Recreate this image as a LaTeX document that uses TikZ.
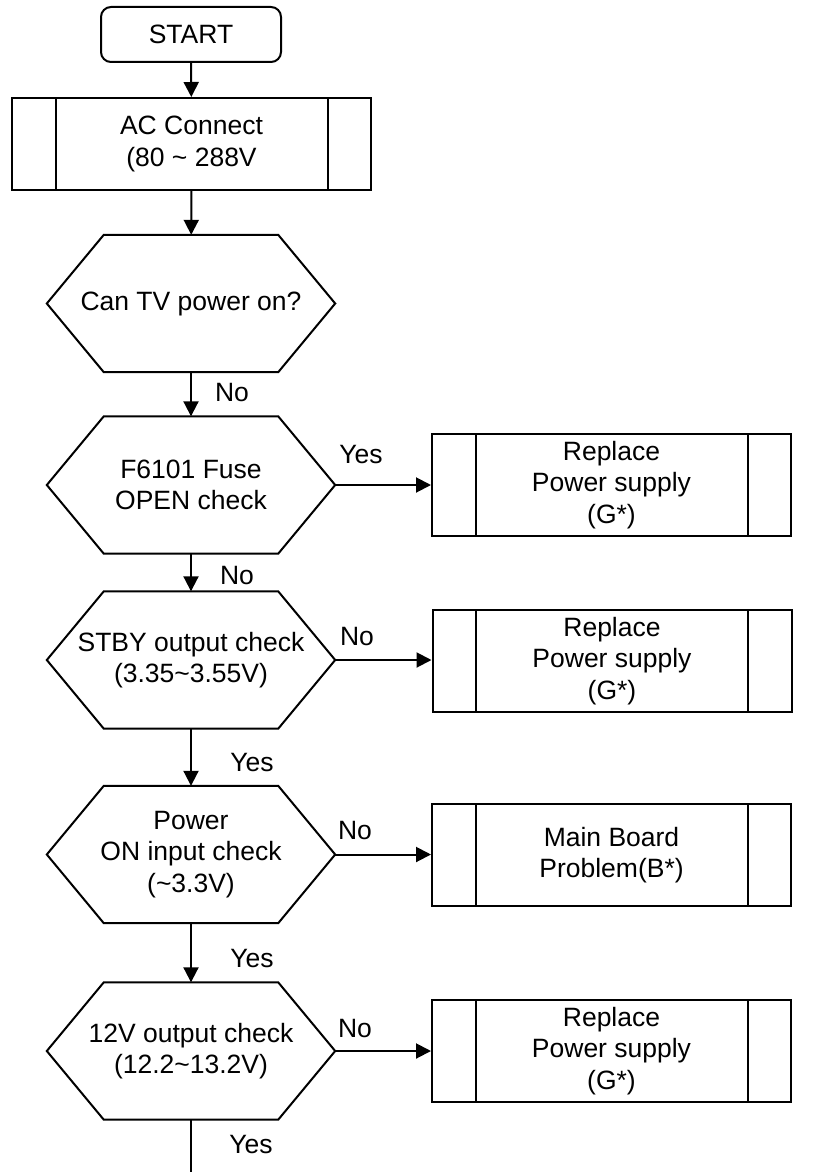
\documentclass[tikz,border=0pt]{standalone}
\usepackage{fontspec}
\setmainfont{Liberation Sans}
\usetikzlibrary{arrows.meta,calc}
\begin{document}
\begin{tikzpicture}[x=1pt,y=-1pt,
  every node/.style={font=\fontsize{26.5}{31.5}\selectfont, align=center, inner sep=0pt},
  line/.style={line width=2pt, line join=miter},
  arr/.style={line, -{Triangle[length=15pt,width=15pt]}},
  startbox/.style={draw, line width=2pt, rounded corners=10pt, minimum width=180pt, minimum height=55pt},
  procbox/.style={draw, line width=2pt, minimum width=359pt, minimum height=102pt},
  hexbox/.style={minimum width=288pt, minimum height=137pt},
  lbl/.style={text height=19pt, text depth=0pt}
]
\useasboundingbox (0,0) rectangle (825,1172);
\fill[white] (0,0) rectangle (825,1172);

% nodes
\node[startbox] (start) at (191,34.5) {START};
\node[procbox, minimum height=92pt] (ac) at (191.5,144) {AC Connect\\(80 \~{} 288V};
\node[hexbox] (h1) at (191,303.5) {Can TV power on?};
\node[hexbox] (h2) at (191,485) {F6101 Fuse\\OPEN check};
\node[hexbox] (h3) at (191,660) {STBY output check\\(3.35\textasciitilde 3.55V)};
\node[hexbox] (h4) at (191,854.5) {Power\\ON input check\\(\textasciitilde 3.3V)};
\node[hexbox] (h5) at (191,1051) {12V output check\\(12.2\textasciitilde 13.2V)};
\node[procbox] (b2) at (611.5,485) {Replace\\Power supply\\(G*)};
\node[procbox] (b3) at (612,661) {Replace\\Power supply\\(G*)};
\node[procbox] (b4) at (611.5,855) {Main Board\\Problem(B*)};
\node[procbox] (b5) at (611.5,1051) {Replace\\Power supply\\(G*)};
\coordinate (endpt) at (191,1172);

% hexagon outlines
\foreach \h in {h1,h2,h3,h4,h5}{
  \draw[line] (\h.west) -- ($(\h.north west)+(57,0)$) -- ($(\h.north east)+(-57,0)$)
    -- (\h.east) -- ($(\h.south east)+(-57,0)$) -- ($(\h.south west)+(57,0)$) -- cycle;
}
% inner bars of predefined-process boxes
\foreach \b in {ac,b2,b3,b4,b5}{
  \draw[line] ($(\b.north west)+(44.5,0)$) -- ($(\b.south west)+(44.5,0)$);
  \draw[line] ($(\b.north east)+(-44.5,0)$) -- ($(\b.south east)+(-44.5,0)$);
}

% connectors
\draw[arr] (start) -- (ac);
\draw[arr] (ac) -- (h1);
\draw[arr] (h1) -- (h2);
\draw[arr] (h2) -- (h3);
\draw[arr] (h3) -- (h4);
\draw[arr] (h4) -- (h5);
\draw[line] (h5) -- (endpt);
\draw[arr] (h2.east) -- (b2.west);
\draw[arr] (h3.east) -- (b3.west |- h3.east);
\draw[arr] (h4.east) -- (b4.west |- h4.east);
\draw[arr] (h5.east) -- (b5.west);

% labels
\node[lbl] (l1) at (232,392) {No};
\node[lbl] (l2) at (361,454) {Yes};
\node[lbl] (l3) at (237,575) {No};
\node[lbl] (l4) at (357,635.5) {No};
\node[lbl] (l5) at (252,762) {Yes};
\node[lbl] (l6) at (355,830) {No};
\node[lbl] (l7) at (252,958) {Yes};
\node[lbl] (l8) at (355,1028) {No};
\node[lbl] (l9) at (251,1144) {Yes};
\end{tikzpicture}
\end{document}
